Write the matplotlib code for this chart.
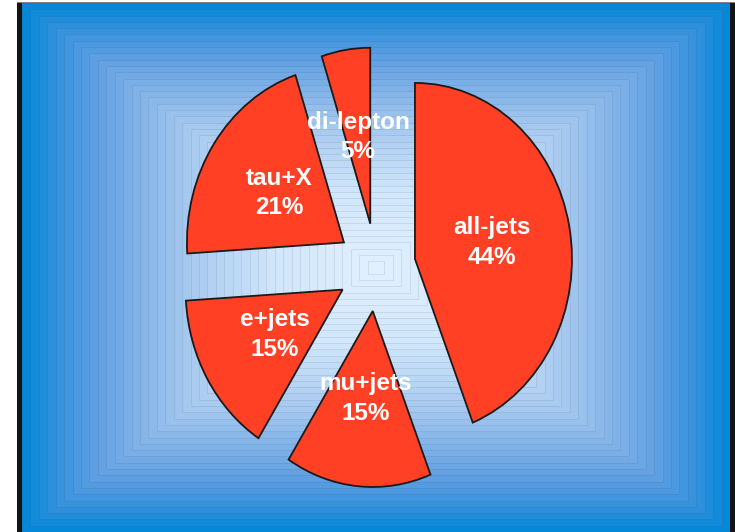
import numpy as np
import matplotlib
matplotlib.use('Agg')
import matplotlib.pyplot as plt
from matplotlib.patches import Rectangle
from matplotlib.colors import LinearSegmentedColormap

plt.rcParams['font.family'] = ['Liberation Sans', 'DejaVu Sans']

# top-pair decay channels, clockwise from 12 o'clock
channels = ['all-jets', 'mu+jets', 'e+jets', 'tau+X', 'di-lepton']
shares = [44, 15, 15, 21, 5]

W, H = 735, 532
fig = plt.figure(figsize=(W / 100, H / 100), dpi=100)

# ---- backdrop: nested rectangles, light centre fading out to blue ----
bg = fig.add_axes([0, 0, 1, 1])
bg.set_xlim(0, W)
bg.set_ylim(H, 0)
bg.axis('off')

shade = LinearSegmentedColormap.from_list('backdrop', [
    (0.00, (226/255, 241/255, 255/255)),
    (0.30, (208/255, 230/255, 251/255)),
    (0.55, (165/255, 200/255, 239/255)),
    (0.80, (98/255, 160/255, 227/255)),
    (0.92, (50/255, 145/255, 222/255)),
    (1.00, (5/255, 136/255, 216/255)),
])

px0, px1, py0, py1 = 22, 730, 3, 532
cx, cy = (px0 + px1) / 2, (py0 + py1) / 2
hw, hh = (px1 - px0) / 2, (py1 - py0) / 2
n_steps = 42
for i in range(n_steps):
    d = 1 - i / n_steps
    face = np.array(shade(d)[:3])
    bg.add_patch(Rectangle((cx - hw * d, cy - hh * d), 2 * hw * d, 2 * hh * d,
                           facecolor=face, edgecolor=face * 0.92,
                           linewidth=0.7, zorder=1))

bg.add_patch(Rectangle((17, 2), 5, H, facecolor='#141414', edgecolor='none', zorder=2))
bg.add_patch(Rectangle((730, 2), 5, H, facecolor='#141414', edgecolor='none', zorder=2))
bg.add_patch(Rectangle((17, 2), W - 17, 1.2, facecolor='#808080', edgecolor='none', zorder=2))

# ---- the pie, slightly squashed horizontally ----
ax = fig.add_axes([0, 0, 1, 1])
ax.patch.set_alpha(0)
labels = [f'{name}\n{val}%' for name, val in zip(channels, shares)]
ax.pie(shares, labels=labels, startangle=90, counterclock=False,
       explode=[0.25] * len(shares), labeldistance=0.5,
       colors=['#ff4025'] * len(shares),
       wedgeprops=dict(edgecolor='#1a1a1a', linewidth=1.3),
       textprops=dict(color='white', fontsize=17.5, fontweight='bold',
                      ha='center', va='center', linespacing=1.35))
ax.set_aspect('auto')
rx, ry = 157, 176
ox, oy = 376.4, 267.2
ax.set_xlim(-ox / rx, (W - ox) / rx)
ax.set_ylim((oy - H) / ry, oy / ry)
ax.axis('off')

fig.savefig('out.png', dpi=100)
